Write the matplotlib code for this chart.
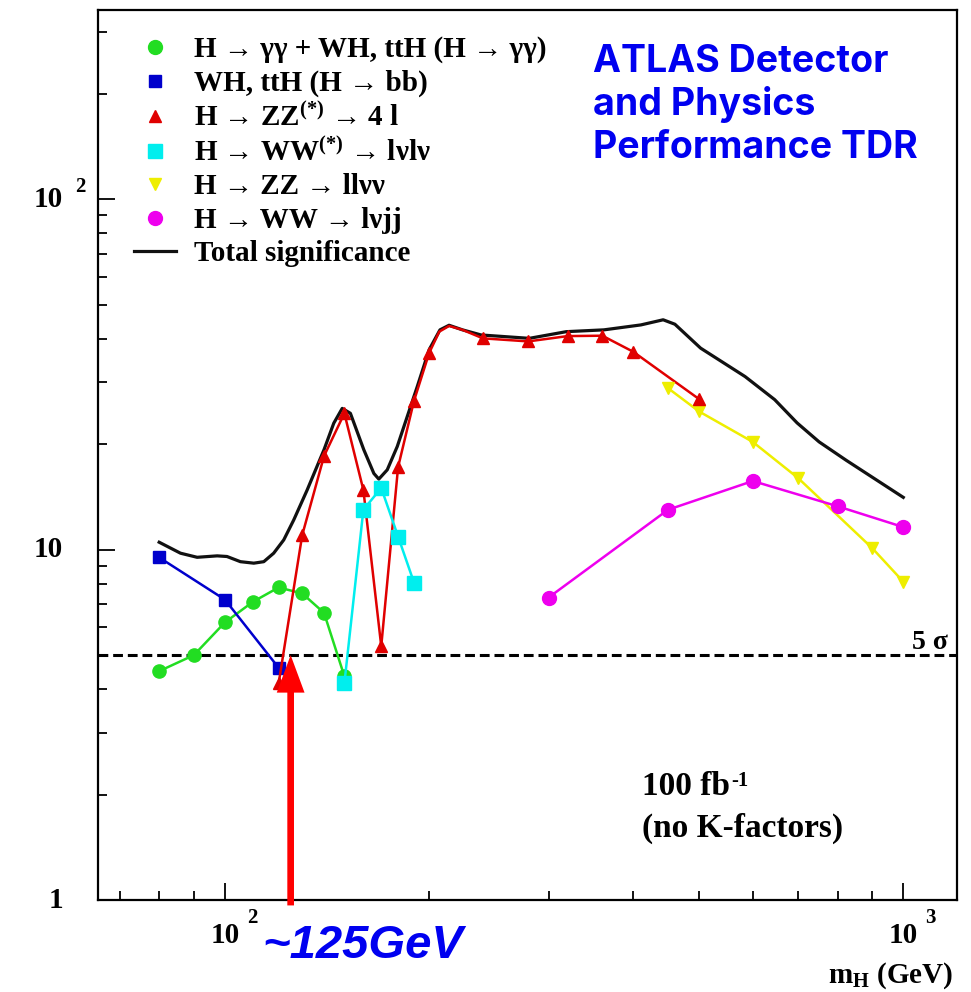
import numpy as np
import matplotlib
matplotlib.use('Agg')
from matplotlib import pyplot as plt
from matplotlib.lines import Line2D

# --- data ---
gg_mass = [80, 90, 100, 110, 120, 130, 140, 150]
gg_sig = [4.5, 5.0, 6.2, 7.1, 7.8, 7.5, 6.6, 4.35]

bb_mass = [80, 100, 120]
bb_sig = [9.5, 7.2, 4.6]

zz4l_mass = [120, 130, 140, 150, 160, 170, 180, 190, 200, 240, 280, 320, 360, 400, 500]
zz4l_sig = [4.15, 11.0, 18.5, 24.5, 14.8, 5.3, 17.2, 26.6, 36.4, 40.1, 39.3, 40.7, 40.8, 36.7, 26.9]
# red curve also passes through a peak between the 200 and 240 points
zz4l_peak_mass = [207, 214, 224]
zz4l_peak_sig = [41.9, 43.5, 42.4]

wwlvlv_mass = [150, 160, 170, 180, 190]
wwlvlv_sig = [4.15, 13.0, 15.0, 10.9, 8.05]

zzllvv_mass = [450, 500, 600, 700, 900, 1000]
zzllvv_sig = [28.9, 24.8, 20.3, 16.0, 10.1, 8.1]

wwlvjj_mass = [300, 450, 600, 800, 1000]
wwlvjj_sig = [7.3, 13.0, 15.7, 13.3, 11.6]

total_mass = [80, 86, 91, 97.4, 100.7, 105.4, 110.3, 114.1, 118, 122.1, 126.3, 132.2, 140,
              144.7, 148.9, 153.1, 160.2, 165.8, 168.6, 173.5, 179.5, 185.7, 192.1, 200,
              207.5, 214, 224, 238.6, 281, 318.6, 362, 410.4, 442.6, 460.6, 502.6, 584.4,
              646.3, 697.4, 751.6, 823.6, 1000]
total_sig = [10.5, 9.77, 9.51, 9.6, 9.56, 9.24, 9.15, 9.24, 9.77, 10.66, 12.15, 14.8, 19.3,
             22.96, 25.3, 24.5, 19.3, 16.5, 15.9, 16.9, 19.7, 24.0, 29.2, 37.2,
             42.4, 43.7, 42.4, 41.0, 40.1, 41.9, 42.4, 43.8, 45.3, 44.0, 37.6, 31.2,
             26.8, 23.0, 20.3, 18.0, 14.1]

discovery = 5.0
mh_arrow = 125

labels = [r'H → γγ + WH, ttH (H → γγ)',
          r'WH, ttH (H → bb)',
          r'H → ZZ$^{(*)}$ → 4 l',
          r'H → WW$^{(*)}$ → lνlν',
          r'H → ZZ → llνν',
          r'H → WW → lνjj',
          'Total significance']

# --- style ---
plt.rcParams['font.family'] = ['Liberation Serif', 'DejaVu Serif']
plt.rcParams['font.weight'] = 'bold'
plt.rcParams['mathtext.fontset'] = 'custom'
plt.rcParams['mathtext.rm'] = 'Liberation Serif:bold'
plt.rcParams['mathtext.bf'] = 'Liberation Serif:bold'
plt.rcParams['mathtext.it'] = 'Liberation Serif:bold:italic'
plt.rcParams['mathtext.sf'] = 'Liberation Serif:bold'

W, H = 971, 992
fig = plt.figure(figsize=(W / 100, H / 100), dpi=100)
ax = fig.add_axes([98 / W, 1 - 900 / H, (957 - 98) / W, (900 - 10) / H])

def fx(px):
    return px / W

def fy(py):
    return 1 - py / H

green = '#22dd22'
blue = '#0000cc'
red = '#e00000'
cyan = '#00eeee'
yellow = '#eeee00'
magenta = '#ee00ee'
title_blue = '#0000f0'

ax.axhline(discovery, color='black', lw=2.2, ls=(0, (3.2, 1.6)), zorder=1)

# total significance
ax.plot(total_mass, total_sig, color='#111111', lw=2.3, zorder=2)

ax.plot(gg_mass, gg_sig, color=green, lw=1.8, marker='o', ms=9.5, zorder=3)
ax.plot(bb_mass, bb_sig, color=blue, lw=1.8, marker='s', ms=9, zorder=3)

# red line includes the peak points, markers only on the measured masses
red_line = sorted(zip(zz4l_mass + zz4l_peak_mass, zz4l_sig + zz4l_peak_sig))
ax.plot([m for m, s in red_line], [s for m, s in red_line], color=red, lw=1.8, zorder=3)
ax.plot(zz4l_mass, zz4l_sig, ls='none', color=red, marker='^', ms=9, zorder=4)

ax.plot(wwlvlv_mass, wwlvlv_sig, color=cyan, lw=1.8, marker='s', ms=10, zorder=3)
ax.plot(zzllvv_mass, zzllvv_sig, color=yellow, lw=1.8, marker='v', ms=9, zorder=3)
ax.plot(wwlvjj_mass, wwlvjj_sig, color=magenta, lw=1.8, marker='o', ms=10, zorder=3)

ax.set_xscale('log')
ax.set_yscale('log')
ax.set_xlim(65, 1200)
ax.set_ylim(1, 347)

for side in ['left', 'right', 'top', 'bottom']:
    ax.spines[side].set_linewidth(1.6)

ax.tick_params(which='both', direction='in', top=False, right=False,
               labelbottom=False, labelleft=False, width=1.3)
ax.tick_params(which='major', length=12.5)
ax.tick_params(which='minor', length=6.5)
ax.set_xticks([100, 1000])
ax.set_xticks([70, 80, 90, 200, 300, 400, 500, 600, 700, 800, 900], minor=True)
ax.set_yticks([1, 10, 100])
ax.set_yticks([2, 3, 4, 5, 6, 7, 8, 9, 20, 30, 40, 50, 60, 70, 80, 90, 200, 300], minor=True)

# tick labels (ROOT style, "10" with a raised exponent)
ytr = ax.get_yaxis_transform()
xtr = ax.get_xaxis_transform()
lab_fs = 21
for val, txt in [(1, '1'), (10, '10'), (100, '10')]:
    ax.text(-0.041, val, txt, transform=ytr, ha='right', va='center', fontsize=lab_fs)
ax.annotate('2', xy=(-0.027, 100), xycoords=ytr, xytext=(0, 9), textcoords='offset points',
            ha='left', va='center', fontsize=15, annotation_clip=False)
for val, exp in [(100, '2'), (1000, '3')]:
    ax.text(val, -0.040, '10', transform=xtr, ha='center', va='center', fontsize=lab_fs)
    ax.annotate(exp, xy=(val, -0.040), xycoords=xtr, xytext=(16, 13), textcoords='offset points',
                ha='left', va='center', fontsize=15, annotation_clip=False)

fig.text(fx(953), fy(983), r'm$_{\mathregular{H}}$ (GeV)', ha='right', va='baseline', fontsize=21)

# legend
handles = [
    Line2D([], [], ls='none', marker='o', color=green, ms=10),
    Line2D([], [], ls='none', marker='s', color=blue, ms=9),
    Line2D([], [], ls='none', marker='^', color=red, ms=9),
    Line2D([], [], ls='none', marker='s', color=cyan, ms=10),
    Line2D([], [], ls='none', marker='v', color=yellow, ms=9),
    Line2D([], [], ls='none', marker='o', color=magenta, ms=10),
    Line2D([], [], color='#111111', lw=2.3),
]
ax.legend(handles, labels, loc='upper left', bbox_to_anchor=(fx(134), fy(36)),
          bbox_transform=fig.transFigure, frameon=False, fontsize=21,
          handlelength=1.45, handletextpad=0.6, labelspacing=0.22, borderaxespad=0, borderpad=0)

# annotations
ax.text(0.9895, discovery, '5 σ', transform=ytr, ha='right', va='bottom', fontsize=20)
fig.text(fx(642), fy(795), '100 fb', fontsize=24, va='baseline')
fig.text(fx(731), fy(786), '-1', fontsize=15, va='baseline')
fig.text(fx(642), fy(837), '(no K-factors)', fontsize=24, va='baseline')

for txt, base in [('ATLAS Detector', 72), ('and Physics', 115), ('Performance TDR', 158)]:
    fig.text(fx(593), fy(base), txt, family='Inter', fontweight='bold', fontsize=27,
             color=title_blue, va='baseline')

ax.annotate('', xy=(mh_arrow, discovery), xytext=(mh_arrow, 0.965),
            arrowprops=dict(facecolor='#ff0000', edgecolor='none', width=4.8,
                            headwidth=20, headlength=27, shrink=0),
            annotation_clip=False, zorder=6)
fig.text(fx(262), fy(958), '~125GeV', family='Liberation Sans', fontweight='bold',
         style='italic', fontsize=34, color=title_blue, va='baseline')

fig.savefig('out.png', dpi=100)
